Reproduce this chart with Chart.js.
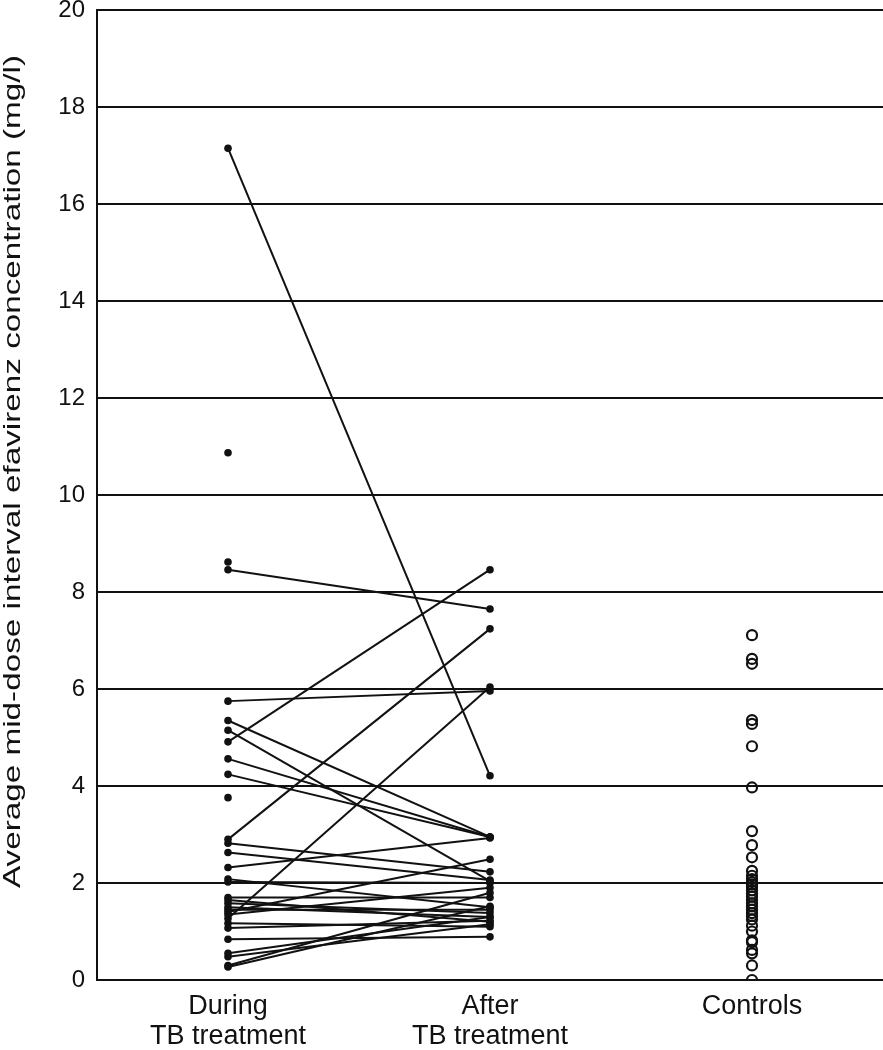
<!DOCTYPE html>
<html>
<head>
<meta charset="utf-8">
<script src="https://cdn.jsdelivr.net/npm/chart.js@4/dist/chart.umd.min.js"></script>
<style>
html,body{margin:0;padding:0;background:#fff;}
canvas{display:block;}
</style>
</head>
<body>
<canvas id="c" width="883" height="1050"></canvas>
<script>
// Category labels (x positions 0, 1, 2)
const categories = [["During", "TB treatment"], ["After", "TB treatment"], ["Controls"]];

// Paired patient values: during TB treatment -> after TB treatment (null = no follow-up value)
const duringValues = [17.15, 8.46, 5.75, 4.91, 2.90, 1.27, 5.35, 5.15, 4.56, 4.24, 2.32, 2.82, 2.63, 2.08, 2.02, 1.70, 1.65, 1.58, 1.50, 1.45, 1.40, 1.35, 1.17, 1.07, 0.84, 0.55, 0.48, 0.30, 0.27, 10.87, 8.62, 3.76];
const afterValues  = [4.21, 7.65, 5.96, 8.46, 7.24, 6.04, 2.95, 2.04, 2.95, 2.95, 2.93, 2.23, 2.06, 1.50, 2.00, 1.70, 1.20, 1.38, 1.30, 1.45, 2.49, 1.90, 1.10, 1.22, 0.89, 1.30, 1.15, 1.80, 1.52, null, null, null];

// Control group values
const controlValues = [7.11, 6.62, 6.52, 5.36, 5.28, 4.82, 3.97, 3.07, 2.78, 2.53, 2.25, 2.15, 2.08, 2.02, 1.97, 1.92, 1.85, 1.78, 1.72, 1.65, 1.58, 1.52, 1.45, 1.38, 1.32, 1.25, 1.12, 1.00, 0.82, 0.78, 0.62, 0.55, 0.30, 0.00];

// Y-axis ticks
const yTicks = [0, 2, 4, 6, 8, 10, 12, 14, 16, 18, 20];

const yTitle = "Average mid-dose interval efavirenz concentration (mg/l)";

const FONT = "'Liberation Sans', Arial, Helvetica, sans-serif";
const INK = '#111';

const datasets = [];
duringValues.forEach((d, i) => {
  const pts = [{x: 0, y: d}];
  if (afterValues[i] !== null) pts.push({x: 1, y: afterValues[i]});
  datasets.push({
    data: pts,
    showLine: true,
    borderColor: INK,
    backgroundColor: INK,
    borderWidth: 2,
    pointRadius: 3.8,
    pointBorderWidth: 0,
    pointBackgroundColor: INK
  });
});
datasets.push({
  data: controlValues.map(v => ({x: 2, y: v})),
  showLine: false,
  pointStyle: 'circle',
  pointRadius: 5,
  pointBorderWidth: 2.2,
  pointBorderColor: INK,
  pointBackgroundColor: 'rgba(0,0,0,0)'
});

// Draws the (wide-set) rotated y-axis title as canvas text
const yTitlePlugin = {
  id: 'yTitlePlugin',
  afterDraw(chart) {
    const ctx = chart.ctx;
    const area = chart.chartArea;
    ctx.save();
    ctx.font = "24px " + FONT;
    ctx.fillStyle = INK;
    ctx.textAlign = 'left';
    ctx.textBaseline = 'alphabetic';
    const w = ctx.measureText(yTitle).width;
    const targetLen = 833;
    ctx.translate(area.left - 77, area.bottom - 92);
    ctx.rotate(-Math.PI / 2);
    ctx.scale(targetLen / w, 1);
    ctx.fillText(yTitle, 0, 0);
    ctx.restore();
  }
};

new Chart(document.getElementById('c'), {
  type: 'scatter',
  data: { datasets },
  plugins: [yTitlePlugin],
  options: {
    responsive: false,
    animation: false,
    devicePixelRatio: 1,
    layout: { autoPadding: false, padding: { top: 10, right: 0, bottom: 0, left: 0 } },
    plugins: { legend: { display: false }, tooltip: { enabled: false } },
    scales: {
      x: {
        type: 'linear',
        min: -0.5,
        max: 2.5,
        afterBuildTicks: (s) => { s.ticks = [0, 1, 2].map(v => ({value: v})); },
        afterFit: (s) => { s.height = 70; s.paddingLeft = 0; s.paddingRight = 0; },
        grid: { display: false, drawTicks: false },
        border: { display: false },
        ticks: {
          padding: 11,
          color: INK,
          maxRotation: 0,
          font: { family: FONT, size: 27, lineHeight: 1.13 },
          callback: (v) => categories[v] !== undefined ? categories[v] : ''
        }
      },
      y: {
        min: 0,
        max: 20,
        afterBuildTicks: (s) => { s.ticks = yTicks.map(v => ({value: v})); },
        afterFit: (s) => { s.width = 97; s.paddingTop = 0; s.paddingBottom = 0; },
        grid: { color: INK, lineWidth: 2, drawTicks: false },
        border: { display: true, color: INK, width: 2 },
        ticks: {
          padding: 12,
          color: INK,
          font: { family: FONT, size: 24 }
        },
        title: { display: false, text: yTitle }
      }
    }
  }
});
</script>
</body>
</html>
